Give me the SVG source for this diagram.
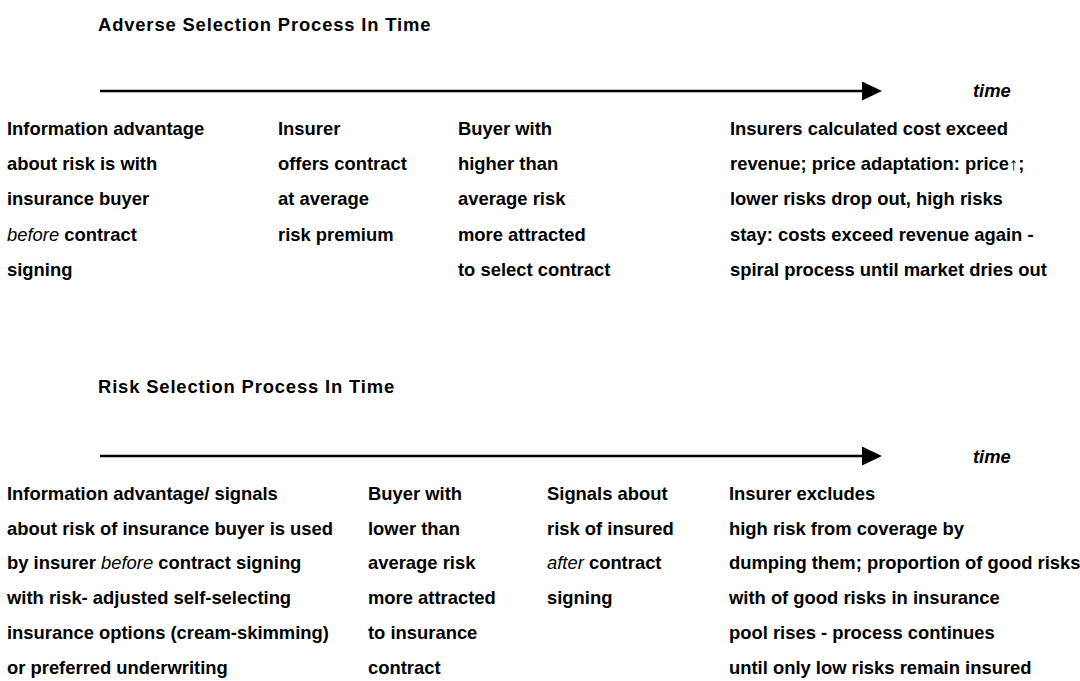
<svg xmlns="http://www.w3.org/2000/svg" width="1080" height="681" viewBox="0 0 1080 681">
<style>
  text { font-family: "Liberation Sans", Arial, sans-serif; font-size: 18.4px; font-weight: bold; fill: #000; }
  .title { letter-spacing: 0.85px; }
  .it { font-style: italic; font-weight: normal; }
  .time { font-style: italic; font-weight: bold; }
  .axis { stroke: #000; stroke-width: 2.6; fill: none; }
</style>
<defs>
  <marker id="ah" markerUnits="userSpaceOnUse" markerWidth="20" markerHeight="20" refX="0" refY="9.5" orient="auto">
    <path d="M0,0 L20,9.5 L0,19 Z" fill="#000"/>
  </marker>
</defs>
<rect width="1080" height="681" fill="#fff"/>

<g id="connectors">
  <line class="axis" x1="100" y1="91" x2="862" y2="91" marker-end="url(#ah)"/>
  <line class="axis" x1="100" y1="456" x2="862" y2="456" marker-end="url(#ah)"/>
</g>

<g id="title-adverse">
  <text class="title" x="98" y="31">Adverse Selection Process In Time</text>
</g>
<g id="time-adverse">
  <text class="time" x="973" y="97">time</text>
</g>
<g id="adverse-1">
  <text x="7" y="135">Information advantage</text>
  <text x="7" y="170.2">about risk is with</text>
  <text x="7" y="205.4">insurance buyer</text>
  <text x="7" y="240.6"><tspan class="it">before</tspan> contract</text>
  <text x="7" y="275.8">signing</text>
</g>
<g id="adverse-2">
  <text x="278" y="135">Insurer</text>
  <text x="278" y="170.2">offers contract</text>
  <text x="278" y="205.4">at average</text>
  <text x="278" y="240.6">risk premium</text>
</g>
<g id="adverse-3">
  <text x="458" y="135">Buyer with</text>
  <text x="458" y="170.2">higher than</text>
  <text x="458" y="205.4">average risk</text>
  <text x="458" y="240.6">more attracted</text>
  <text x="458" y="275.8">to select contract</text>
</g>
<g id="adverse-4">
  <text x="730" y="135">Insurers calculated cost exceed</text>
  <text x="730" y="170.2">revenue; price adaptation: price↑;</text>
  <text x="730" y="205.4">lower risks drop out, high risks</text>
  <text x="730" y="240.6">stay: costs exceed revenue again -</text>
  <text x="730" y="275.8">spiral process until market dries out</text>
</g>

<g id="title-risk">
  <text class="title" x="98" y="393">Risk Selection Process In Time</text>
</g>
<g id="time-risk">
  <text class="time" x="973" y="463">time</text>
</g>
<g id="risk-1">
  <text x="7" y="500">Information advantage/ signals</text>
  <text x="7" y="534.7">about risk of insurance buyer is used</text>
  <text x="7" y="569.4">by insurer <tspan class="it">before</tspan> contract signing</text>
  <text x="7" y="604.1">with risk- adjusted self-selecting</text>
  <text x="7" y="638.8">insurance options (cream-skimming)</text>
  <text x="7" y="673.5">or preferred underwriting</text>
</g>
<g id="risk-2">
  <text x="368" y="500">Buyer with</text>
  <text x="368" y="534.7">lower than</text>
  <text x="368" y="569.4">average risk</text>
  <text x="368" y="604.1">more attracted</text>
  <text x="368" y="638.8">to insurance</text>
  <text x="368" y="673.5">contract</text>
</g>
<g id="risk-3">
  <text x="547" y="500">Signals about</text>
  <text x="547" y="534.7">risk of insured</text>
  <text x="547" y="569.4"><tspan class="it">after</tspan> contract</text>
  <text x="547" y="604.1">signing</text>
</g>
<g id="risk-4">
  <text x="729" y="500">Insurer excludes</text>
  <text x="729" y="534.7">high risk from coverage by</text>
  <text x="729" y="569.4">dumping them; proportion of good risks</text>
  <text x="729" y="604.1">with of good risks in insurance</text>
  <text x="729" y="638.8">pool rises - process continues</text>
  <text x="729" y="673.5">until only low risks remain insured</text>
</g>
</svg>
